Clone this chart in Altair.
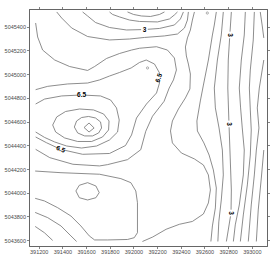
import altair as alt
import pandas as pd

# contour polylines (easting, northing)
T1 = [(391950,5045524),(392001,5045503),(392068,5045490),(392144,5045486),(392220,5045503),(392262,5045524)]
T2 = [(391798,5045524),(391824,5045503),(391883,5045482),(391967,5045456),(392051,5045444),(392203,5045440),(392304,5045465),(392346,5045499),(392372,5045524)]
T3 = [(391571,5045524),(391613,5045490),(391680,5045435),(391798,5045393),(391942,5045372),(392093,5045376),(392220,5045385),(392346,5045414),(392397,5045465),(392422,5045524)]
T4 = [(391352,5045524),(391394,5045473),(391478,5045389),(391613,5045317),(391798,5045288),(391967,5045296),(392093,5045309),(392262,5045322),(392372,5045338),(392431,5045389),(392456,5045456),(392464,5045524)]
R0 = [(392515,5045524),(392498,5045456),(392481,5045372),(392456,5045305),(392439,5045229),(392447,5045153),(392464,5045085),(392481,5045001),(392477,5044875),(392439,5044799),(392380,5044706),(392329,5044605),(392313,5044521),(392329,5044420),(392405,5044335),(392515,5044285),(392591,5044234),(392633,5044150),(392650,5044023),(392633,5043914),(392591,5043821),(392498,5043758),(392388,5043734),(392276,5043692),(392163,5043627),(392076,5043589)]
L1 = [(391174,5045431),(391191,5045313),(391233,5045203),(391335,5045119),(391461,5045064),(391613,5045031),(391672,5045064),(391773,5045132),(391883,5045174),(391984,5045203),(392051,5045218),(392195,5045231),(392287,5045203),(392346,5045136),(392363,5045035),(392338,5044951),(392302,5044883),(392259,5044771),(392161,5044645),(392104,5044518),(392062,5044363),(391950,5044279),(391781,5044237),(391714,5044226),(391489,5044240),(391293,5044296),(391174,5044366)]
B65 = [(391174,5044869),(391276,5044897),(391444,5044917),(391613,5044925),(391714,5044951),(391798,5044984),(391883,5045014),(391981,5045052),(392051,5045098),(392108,5045119),(392178,5045085),(392220,5045010),(392220,5044925),(392195,5044841),(392110,5044748),(392026,5044630),(391984,5044487),(391933,5044398),(391798,5044331),(391571,5044324),(391385,5044366),(391265,5044422),(391174,5044470)]
R3r = [(391174,5044748),(391250,5044790),(391394,5044816),(391562,5044824),(391722,5044816),(391807,5044782),(391857,5044715),(391880,5044613),(391866,5044512),(391798,5044445),(391689,5044394),(391562,5044377),(391436,5044394),(391335,5044428),(391250,5044466),(391174,5044512)]
R2r = [(391318,5044571),(391352,5044639),(391427,5044685),(391545,5044706),(391663,5044698),(391748,5044664),(391794,5044605),(391790,5044529),(391739,5044470),(391647,5044432),(391529,5044432),(391419,5044462),(391343,5044512),(391318,5044571)]
R1r = [(391501,5044554),(391520,5044605),(391562,5044634),(391621,5044643),(391680,5044630),(391722,5044597),(391731,5044546),(391706,5044504),(391655,5044479),(391588,5044479),(391529,5044504),(391501,5044554)]
DIA = [(391583,5044550),(391625,5044588),(391668,5044546),(391625,5044512),(391583,5044550)]
D_U = [(391170,5044183),(391388,5044169),(391714,5044156),(391894,5044119),(391978,5044085),(392020,5044015),(392034,5043916),(392034,5043663),(392007,5043621),(391950,5043606),(391781,5043602),(391672,5043602),(391627,5043636),(391556,5043720),(391472,5043804),(391360,5043874),(391248,5043931),(391170,5043953)]
LOOP = [(391514,5044015),(391543,5044063),(391613,5044085),(391683,5044057),(391711,5044001),(391683,5043958),(391613,5043939),(391543,5043958),(391514,5044015)]
E = [(391170,5043834),(391276,5043790),(391388,5043720),(391472,5043636),(391520,5043589)]
F = [(391170,5043716),(391248,5043663),(391318,5043598)]
V1 = [(392700,5045524),(392683,5045414),(392667,5045330),(392633,5045119),(392591,5044908),(392565,5044774),(392536,5044605),(392540,5044521),(392595,5044420),(392639,5044318),(392675,5044192),(392700,5044040),(392692,5043872),(392667,5043720),(392654,5043589)]
V2 = [(392759,5045524),(392742,5045330),(392709,5045119),(392683,5044883),(392692,5044715),(392723,5044546),(392751,5044360),(392759,5044150),(392742,5043939),(392721,5043754),(392713,5043589)]
V3 = [(392827,5045524),(392814,5045330),(392801,5045119),(392797,5044883),(392807,5044580),(392818,5044276),(392827,5044023),(392824,5043829),(392801,5043686),(392785,5043589)]
V4 = [(392945,5045524),(392936,5045330),(392911,5045119),(392894,5044883),(392905,5044715),(392919,5044546),(392936,5044360),(392928,5044150),(392894,5043897),(392860,5043729),(392844,5043589)]
V5 = [(393021,5045524),(393012,5045288),(392987,5045035),(392979,5044883),(392987,5044698),(392995,5044529),(392987,5044318),(392962,5044066),(392928,5043813),(392903,5043589)]
V6 = [(393071,5045524),(393088,5045406),(393101,5045305)]
V7 = [(393101,5045119),(393063,5044883),(393046,5044715),(393060,5044546),(393038,5044360),(393021,5044150),(392995,5043897),(392970,5043589)]
V8 = [(393101,5044360),(393080,5044124),(393054,5043855),(393038,5043589)]

tiny_x = [392624, 392119]
tiny_y = [5045515, 5045052]

lab_text = ["3", "3", "3", "3", "6.5", "6.5", "6.5"]
lab_x = [392093, 392814, 392807, 392824, 391562, 391385, 392215]
lab_y = [5045376, 5045330, 5044580, 5043829, 5044824, 5044366, 5044967]
lab_angle = [0, 90, 90, 90, 0, 22, 290]

x_ticks = [391200, 391400, 391600, 391800, 392000, 392200, 392400, 392600, 392800, 393000]
y_ticks = [5043600, 5043800, 5044000, 5044200, 5044400, 5044600, 5044800, 5045000, 5045200, 5045400]

lines = {"T1": T1, "T2": T2, "T3": T3, "T4": T4, "R0": R0, "L1": L1, "B65": B65,
         "R3r": R3r, "R2r": R2r, "R1r": R1r, "DIA": DIA, "D_U": D_U, "LOOP": LOOP,
         "E": E, "F": F, "V1": V1, "V2": V2, "V3": V3, "V4": V4, "V5": V5,
         "V6": V6, "V7": V7, "V8": V8}
rows = []
for name, pts in lines.items():
    for i, (px, py) in enumerate(pts):
        rows.append({"line": name, "seq": i, "x": px, "y": py})
df = pd.DataFrame(rows)
tiny = pd.DataFrame({"x": tiny_x, "y": tiny_y})
labels = pd.DataFrame({"t": lab_text, "x": lab_x, "y": lab_y, "a": lab_angle})

xs = alt.Scale(domain=[391118, 393128], nice=False, zero=False)
ys = alt.Scale(domain=[5043551, 5045549], nice=False, zero=False)


def axis(orient, vals, labels=True):
    return alt.Axis(orient=orient, values=vals, format="d", grid=False, title=None,
                    tickSize=2.5, tickColor="#666", domainColor="#666", domainWidth=1,
                    tickWidth=0.8, labels=labels, labelFont="Liberation Sans",
                    labelFontSize=5.5, labelColor="#4a4a4a", labelPadding=1)


contours = alt.Chart(df).mark_line(color="#707070", strokeWidth=0.8).encode(
    x=alt.X("x:Q", scale=xs, axis=axis("bottom", x_ticks)),
    y=alt.Y("y:Q", scale=ys, axis=axis("left", y_ticks)),
    detail="line:N",
    order="seq:Q",
)

frame = alt.Chart(tiny).mark_point(opacity=0).encode(
    x=alt.X("x:Q", scale=xs, axis=axis("top", x_ticks, labels=False)),
    y=alt.Y("y:Q", scale=ys, axis=axis("right", y_ticks, labels=False)),
)

dots = alt.Chart(tiny).mark_point(shape="circle", size=5, color="#707070", strokeWidth=0.8).encode(
    x=alt.X("x:Q", scale=xs, axis=None), y=alt.Y("y:Q", scale=ys, axis=None))

bg = alt.Chart(labels).mark_point(shape="M-1,-0.55L1,-0.55L1,0.55L-1,0.55Z", filled=True,
                                  color="white", opacity=1, size=45).encode(
    x=alt.X("x:Q", scale=xs, axis=None), y=alt.Y("y:Q", scale=ys, axis=None),
    angle=alt.Angle("a:Q", scale=None))

txt = alt.Chart(labels).mark_text(font="Liberation Sans", fontSize=6.5, fontWeight="bold",
                                  color="#000", baseline="middle", align="center").encode(
    x=alt.X("x:Q", scale=xs, axis=None), y=alt.Y("y:Q", scale=ys, axis=None), text="t:N",
    angle=alt.Angle("a:Q", scale=None))

chart = alt.layer(contours, frame, dots, bg, txt).resolve_axis(
    x="independent", y="independent"
).properties(
    width=238, height=237,
    padding={"left": 29, "top": 9, "right": 13, "bottom": 16},
    autosize="none",
).configure_view(stroke="#666", strokeWidth=1)

chart.save("out.html", embed_options={"renderer": "svg", "actions": False})
